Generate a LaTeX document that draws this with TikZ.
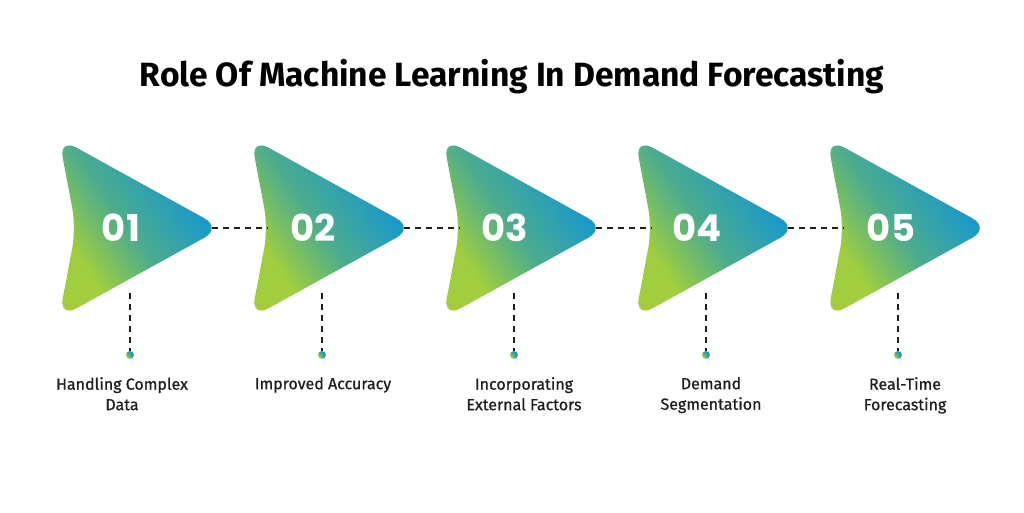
\documentclass[tikz,border=0pt]{standalone}
\usepackage{fontspec}
\setmainfont{Fira Sans}
\newfontfamily\numfont{Poppins}
\newfontfamily\labfont{Fira Sans}[FakeBold=0.8]
\usepackage{tikz}
\usetikzlibrary{positioning}

\definecolor{chevblue}{RGB}{24,152,206}
\definecolor{chevteal}{RGB}{76,172,140}
\definecolor{chevlime}{RGB}{160,206,62}
\definecolor{inkgray}{RGB}{30,30,30}

\pgfdeclareverticalshading{chevgrad}{100bp}{%
  color(0bp)=(chevlime); color(30bp)=(chevlime); color(47bp)=(chevteal);
  color(68bp)=(chevblue); color(100bp)=(chevblue)}

\begin{document}
\begin{tikzpicture}[
    x=1pt, y=-1pt,
    every node/.style={inner sep=0pt},
    chevshade/.style={shading=chevgrad, shading angle=-55},
    chev/.pic={
      \shade[chevshade, rounded corners=20pt]
        (14,228) -- (-3,138) -- (160,228) -- (-3,318) -- cycle;
      \coordinate (-tip)   at (150,228);
      \coordinate (-notch) at (14,228);
      \coordinate (-base)  at (68,293);
    },
    num/.style={font=\numfont\bfseries\fontsize{37}{37}\selectfont, text=white},
    dot/.style={circle, minimum size=8pt, shading=chevgrad, shading angle=-45},
    dashline/.style={draw=inkgray, line width=1.2pt, dash pattern=on 6pt off 5pt},
    lab/.style={font=\labfont\fontsize{16}{20.5}\selectfont, text=inkgray,
                align=center, anchor=north}
]
\useasboundingbox (0,0) rectangle (1024,512);

% title
\node[font=\bfseries\fontsize{33.6}{33.6}\selectfont, anchor=base] (title)
  at (512,86) {Role Of Machine Learning In Demand Forecasting};

% steps
\pic (s1) at (62,0)  {chev};
\pic (s2) at (254,0) {chev};
\pic (s3) at (446,0) {chev};
\pic (s4) at (638,0) {chev};
\pic (s5) at (830,0) {chev};

\node[num] (n1) at (121,228) {01};
\node[num] (n2) at (313,228) {02};
\node[num] (n3) at (505,228) {03};
\node[num] (n4) at (697,228) {04};
\node[num] (n5) at (891,228) {05};

% links between steps
\draw[dashline] (s1-tip) -- (s2-notch);
\draw[dashline] (s2-tip) -- (s3-notch);
\draw[dashline] (s3-tip) -- (s4-notch);
\draw[dashline] (s4-tip) -- (s5-notch);

% drop lines and dots
\node[dot] (d1) at (130,355) {};
\node[dot] (d2) at (322,355) {};
\node[dot] (d3) at (514,355) {};
\node[dot] (d4) at (706,355) {};
\node[dot] (d5) at (898,355) {};

\draw[dashline] (s1-base) -- (d1);
\draw[dashline] (s2-base) -- (d2);
\draw[dashline] (s3-base) -- (d3);
\draw[dashline] (s4-base) -- (d4);
\draw[dashline] (s5-base) -- (d5);

% labels
\node[lab] (l1) at (122,377) {Handling Complex\\Data};
\node[lab] (l2) at (323,377) {Improved Accuracy};
\node[lab] (l3) at (524,377) {Incorporating\\External Factors};
\node[lab] (l4) at (711,377) {Demand\\Segmentation};
\node[lab] (l5) at (905,377) {Real-Time\\Forecasting};
\end{tikzpicture}
\end{document}
